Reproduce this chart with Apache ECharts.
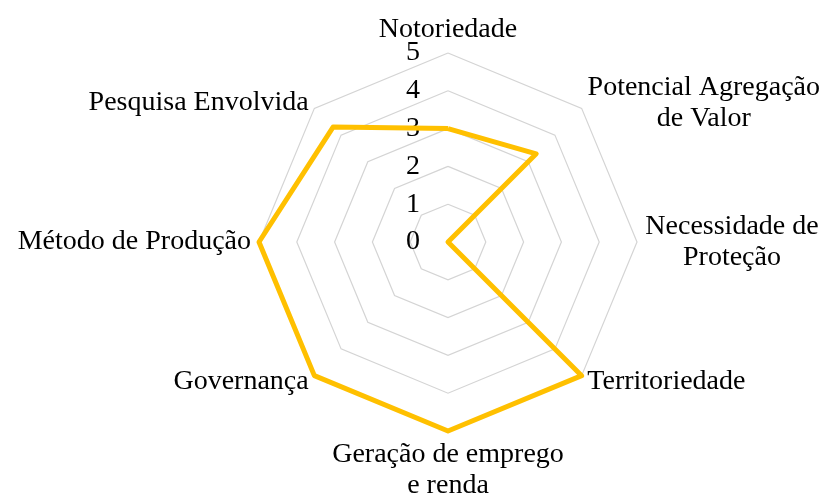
<!DOCTYPE html>
<html>
<head>
<meta charset="utf-8">
<script src="https://cdn.jsdelivr.net/npm/echarts@6/dist/echarts.min.js"></script>
<style>
html, body { margin: 0; padding: 0; background: #fff; }
#chart { width: 824px; height: 495px; }
</style>
</head>
<body>
<div id="chart"></div>
<script>
// indicators, going round counter-clockwise from the top
var categories = [
	'Notoriedade',
	'Pesquisa Envolvida',
	'Método de Produção',
	'Governança',
	'Geração de emprego\ne renda',
	'Territoriedade',
	'Necessidade de\nProteção',
	'Potencial Agregação\nde Valor'
];
var scores = [3, 4.3, 5, 5, 5, 5, 0, 3.3];
var maxScore = 5;
var tickCount = 5;

var fontFamily = '"Liberation Serif", "Times New Roman", serif';
var fontSize = 28;

// width of a line of text, used to centre the lines of two-line names
var ctx = document.createElement('canvas').getContext('2d');
ctx.font = fontSize + 'px ' + fontFamily;
function textWidth(s) {
	return Math.ceil(ctx.measureText(s).width);
}

var rich = {};
var nameText = categories.map(function (name, i) {
	var lines = name.split('\n');
	if (lines.length == 1) {
		return name;
	}
	var w = Math.max.apply(null, lines.map(textWidth));
	rich['l' + i] = {
		width: w,
		align: 'center',
		fontSize: fontSize,
		fontFamily: fontFamily,
		color: '#000',
		lineHeight: 31
	};
	return lines.map(function (l) {
		return '{l' + i + '|' + l + '}';
	}).join('\n');
});

var myChart = echarts.init(document.getElementById('chart'));

var option = {
	animation: false,
	radar: {
		center: [448, 242],
		radius: 189,
		startAngle: 90,
		splitNumber: tickCount,
		shape: 'polygon',
		nameMoveOverlap: false,
		indicator: categories.map(function (name, i) {
			var ind = { name: name, min: 0, max: maxScore };
			if (i == 0) {
				ind.axisLabel = { show: true };
				ind.nameMoveOverlap = false;
			}
			return ind;
		}),
		axisName: {
			color: '#000',
			fontSize: fontSize,
			fontFamily: fontFamily,
			lineHeight: 31,
			formatter: function (name) {
				return nameText[categories.indexOf(name)];
			},
			rich: rich
		},
		nameGap: 8,
		axisLine: { show: false },
		axisTick: { show: false },
		axisLabel: {
			show: false,
			color: '#000',
			fontSize: fontSize,
			fontFamily: fontFamily,
			margin: 28
		},
		splitLine: {
			lineStyle: { color: '#d4d4d4', width: 1.2 }
		},
		splitArea: { show: false }
	},
	series: [
		{
			type: 'radar',
			symbol: 'none',
			lineStyle: {
				color: '#FFC000',
				width: 5
			},
			data: [
				{ value: scores, name: 'Pontuação' }
			]
		}
	]
};
myChart.setOption(option);
</script>
</body>
</html>
